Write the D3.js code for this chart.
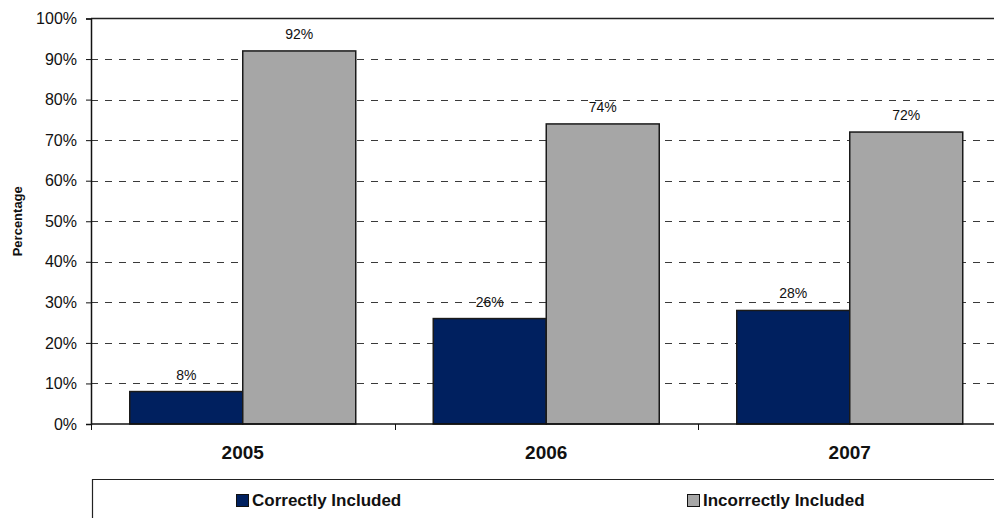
<!DOCTYPE html>
<html>
<head>
<meta charset="utf-8">
<script src="https://cdn.jsdelivr.net/npm/d3@7/dist/d3.min.js"></script>
<style>
  html, body { margin: 0; padding: 0; background: #fff; }
  svg { display: block; font-family: Arial, "Liberation Sans", sans-serif; }
</style>
</head>
<body>
<svg id="chart" width="994" height="518"></svg>
<script>
// Inclusion accuracy by year
const years = ["2005", "2006", "2007"];
const seriesNames = ["Correctly Included", "Incorrectly Included"];
const correctlyIncluded = [8, 26, 28];
const incorrectlyIncluded = [92, 74, 72];
const yTicks = [0, 10, 20, 30, 40, 50, 60, 70, 80, 90, 100];
const seriesColors = ["#00205f", "#a6a6a6"];

const svg = d3.select("#chart");
const plot = { left: 91, right: 1001.5, top: 18.5, bottom: 424 };

const x0 = d3.scaleBand().domain(years).range([plot.left, plot.right]).paddingInner(0).paddingOuter(0);
const x1 = d3.scaleBand().domain(seriesNames).range([0, x0.bandwidth()]).paddingInner(0).paddingOuter(0.343);
const y = d3.scaleLinear().domain([0, 100]).range([plot.bottom, plot.top]);
const color = d3.scaleOrdinal().domain(seriesNames).range(seriesColors);

const rows = years.map((yr, i) => ({
  year: yr,
  values: [
    { name: seriesNames[0], value: correctlyIncluded[i] },
    { name: seriesNames[1], value: incorrectlyIncluded[i] }
  ]
}));

// dashed gridlines
svg.append("g")
  .selectAll("line")
  .data(yTicks.filter(t => t > 0 && t < 100))
  .join("line")
  .attr("x1", plot.left).attr("x2", 994)
  .attr("y1", d => Math.round(y(d)) + 0.5).attr("y2", d => Math.round(y(d)) + 0.5)
  .attr("stroke", "#3a3a3a")
  .attr("stroke-width", 1)
  .attr("stroke-dasharray", "7,7");

// top border of plot area
svg.append("line")
  .attr("x1", plot.left).attr("x2", 994)
  .attr("y1", y(100)).attr("y2", y(100))
  .attr("stroke", "#222").attr("stroke-width", 1.5);

// bars
const groups = svg.append("g")
  .selectAll("g")
  .data(rows)
  .join("g")
  .attr("transform", d => `translate(${x0(d.year)},0)`);

groups.selectAll("rect")
  .data(d => d.values)
  .join("rect")
  .attr("x", d => x1(d.name))
  .attr("y", d => y(d.value))
  .attr("width", x1.bandwidth())
  .attr("height", d => y(0) - y(d.value))
  .attr("fill", d => color(d.name))
  .attr("stroke", "#1a1a1a")
  .attr("stroke-width", 1.5);

// value labels
groups.selectAll("text")
  .data(d => d.values)
  .join("text")
  .attr("x", d => x1(d.name) + x1.bandwidth() / 2)
  .attr("y", d => y(d.value) - 12)
  .attr("text-anchor", "middle")
  .attr("font-size", 14)
  .attr("fill", "#111")
  .text(d => d.value + "%");

// y axis
const yAxis = svg.append("g")
  .attr("transform", `translate(${plot.left},0)`)
  .call(d3.axisLeft(y).tickValues(yTicks).tickFormat(d => d + "%").tickSize(5).tickPadding(9));
yAxis.select(".domain").attr("stroke", "#111").attr("stroke-width", 1.5);
yAxis.selectAll(".tick line").attr("stroke", "#111");
yAxis.selectAll(".tick text")
  .attr("font-size", 16)
  .attr("font-family", "Arial, 'Liberation Sans', sans-serif")
  .attr("fill", "#111");

// x axis
const xAxis = svg.append("g")
  .attr("transform", `translate(0,${plot.bottom})`)
  .call(d3.axisBottom(x0).tickSize(0).tickPadding(22));
xAxis.select(".domain").remove();
svg.append("line")
  .attr("x1", plot.left).attr("x2", 994)
  .attr("y1", plot.bottom).attr("y2", plot.bottom)
  .attr("stroke", "#111").attr("stroke-width", 1.5);
xAxis.selectAll(".tick text")
  .attr("font-size", 19)
  .attr("font-weight", "bold")
  .attr("font-family", "Arial, 'Liberation Sans', sans-serif")
  .attr("fill", "#111");

// category divider ticks
svg.append("g")
  .selectAll("line")
  .data(years)
  .join("line")
  .attr("x1", d => Math.round(x0(d)) + 0.5).attr("x2", d => Math.round(x0(d)) + 0.5)
  .attr("y1", plot.bottom).attr("y2", plot.bottom + 6)
  .attr("stroke", "#111");

// y axis title
svg.append("text")
  .attr("transform", `translate(22,${(plot.top + plot.bottom) / 2}) rotate(-90)`)
  .attr("text-anchor", "middle")
  .attr("font-size", 13)
  .attr("font-weight", "bold")
  .attr("fill", "#111")
  .text("Percentage");

// legend box
const legend = svg.append("g");
legend.append("path")
  .attr("d", "M92.5,518 V479.5 H994")
  .attr("fill", "none")
  .attr("stroke", "#222")
  .attr("stroke-width", 1.2);

const legendX = [236, 687];
const items = legend.selectAll("g.item")
  .data(seriesNames)
  .join("g")
  .attr("class", "item")
  .attr("transform", (d, i) => `translate(${legendX[i]},494)`);
items.append("rect")
  .attr("x", 0.5).attr("y", 0.5)
  .attr("width", 12).attr("height", 12)
  .attr("fill", d => color(d))
  .attr("stroke", "#111");
items.append("text")
  .attr("x", 16).attr("y", 11.5)
  .attr("font-size", 17)
  .attr("font-weight", "bold")
  .attr("fill", "#111")
  .text(d => d);
</script>
</body>
</html>
